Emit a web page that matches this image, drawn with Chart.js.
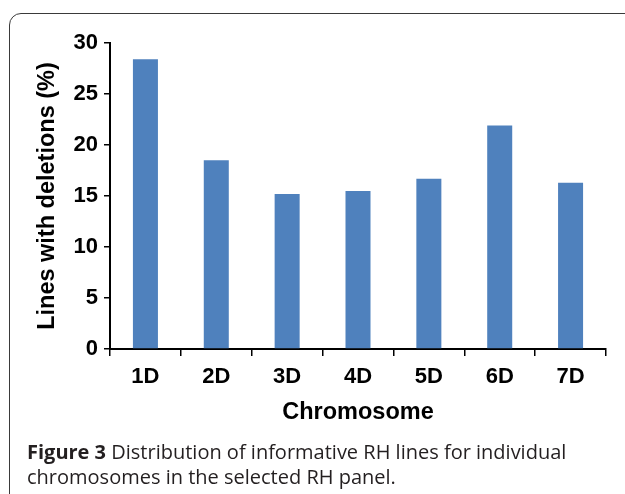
<!DOCTYPE html>
<html>
<head>
<meta charset="utf-8">
<script src="https://cdn.jsdelivr.net/npm/chart.js@4"></script>
<style>
  body { margin: 0; background: #fff; width: 625px; height: 494px; overflow: hidden; position: relative; }
  #frame {
    position: absolute; left: 9px; top: 13px; width: 640px; height: 520px;
    border: 1.5px solid #3a3a3a; border-radius: 12px; box-sizing: border-box;
  }
  #wrap { position: absolute; left: 0; top: 0; width: 625px; height: 440px; }
  #caption {
    position: absolute; left: 27px; top: 439px; width: 590px;
    font-family: "Open Sans", sans-serif; font-size: 20px; line-height: 25px; color: #231f20;
  }
</style>
</head>
<body>
<div id="frame"></div>
<div id="wrap"><canvas id="chart"></canvas></div>
<div id="caption"><b>Figure 3</b> Distribution of informative RH lines for individual chromosomes in the selected RH panel.</div>
<script>
// dữ liệu
const chromosomes = ["1D", "2D", "3D", "4D", "5D", "6D", "7D"];
const deletionPct = [28.4, 18.5, 15.2, 15.5, 16.7, 21.9, 16.3];
const yTicks = [0, 5, 10, 15, 20, 25, 30];

const tickFont = { family: "'Liberation Sans', Arial, sans-serif", size: 22, weight: "bold" };
const titleFont = { family: "'Liberation Sans', Arial, sans-serif", size: 23.5, weight: "bold" };

new Chart(document.getElementById("chart"), {
  type: "bar",
  data: {
    labels: chromosomes,
    datasets: [
      {
        label: "Lines with deletions (%)",
        data: deletionPct,
        backgroundColor: "#4F81BD",
        categoryPercentage: 1,
        barPercentage: 0.353,
      },
    ],
  },
  options: {
    responsive: true,
    maintainAspectRatio: false,
    animation: false,
    layout: { padding: { left: 0, right: 19, top: 43, bottom: 0 } },
    plugins: { legend: { display: false }, tooltip: { enabled: false } },
    scales: {
      y: {
        min: 0,
        max: 30,
        afterBuildTicks: (scale) => {
          scale.ticks = yTicks.map((v) => ({ value: v }));
        },
        afterFit: (scale) => {
          scale.width = 110;
        },
        grid: { drawOnChartArea: false, drawTicks: true, tickLength: 6, color: "#000", lineWidth: 1.5 },
        border: { color: "#000", width: 2 },
        ticks: { font: tickFont, color: "#000", padding: 6 },
        title: {
          display: true,
          text: "Lines with deletions (%)",
          font: titleFont,
          color: "#000",
          padding: { top: 33, bottom: 0 },
        },
      },
      x: {
        afterFit: (scale) => {
          scale.height = 91;
        },
        grid: { drawOnChartArea: false, drawTicks: true, tickLength: 7, color: "#000", lineWidth: 1.5, offset: true },
        border: { color: "#000", width: 2 },
        ticks: { font: tickFont, color: "#000", padding: 8 },
        title: {
          display: true,
          text: "Chromosome",
          font: titleFont,
          color: "#000",
          padding: { top: 0, bottom: 13 },
        },
      },
    },
  },
});
</script>
</body>
</html>
